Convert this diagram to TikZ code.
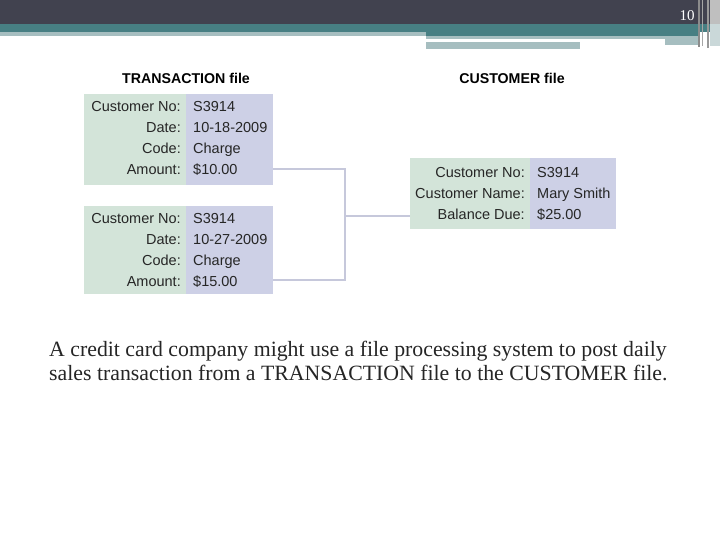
\documentclass[tikz,border=0pt]{standalone}
\usepackage{fontspec}
\newfontfamily\arialf{Liberation Sans}
\newfontfamily\seriff{Liberation Serif}
\definecolor{hdrdark}{HTML}{41424F}
\definecolor{hdrteal}{HTML}{477F83}
\definecolor{hdrlight}{HTML}{A6BEC0}
\definecolor{cellgreen}{HTML}{D3E4D9}
\definecolor{cellblue}{HTML}{CDD0E6}
\definecolor{connc}{HTML}{C6C8DB}
\tikzset{
  gcell/.style={fill=cellgreen, draw=none, anchor=north west, inner sep=0pt},
  bcell/.style={fill=cellblue, draw=none, anchor=north west, inner sep=0pt},
  lab/.style={anchor=base east, inner sep=0pt, font=\arialf\fontsize{14.5}{16}\selectfont, text=black!85},
  val/.style={anchor=base west, inner sep=0pt, font=\arialf\fontsize{14.5}{16}\selectfont, text=black!85},
  ttl/.style={anchor=base, inner sep=0pt, font=\arialf\bfseries\fontsize{14.2}{16}\selectfont},
  conn/.style={draw=connc, line width=2pt},
  captext/.style={anchor=base west, inner sep=0pt, font=\seriff\fontsize{21.8}{24}\selectfont, text=black!85}
}
\begin{document}
\begin{tikzpicture}[x=1pt,y=-1pt]
\useasboundingbox (0,0) rectangle (720,540);
\fill[white] (0,0) rectangle (720,540);
% header
\fill[hdrdark] (0,0) rectangle (720,24);
\fill[hdrteal] (0,24) rectangle (720,32);
\fill[hdrlight] (0,32) rectangle (426,36);
\fill[hdrteal] (426,32) rectangle (700,36);
\fill[hdrlight] (426,36) rectangle (700,39);
\fill[hdrlight] (665,39) rectangle (700,45);
\fill[hdrlight] (426,42) rectangle (580,49);
% right edge stripes
\fill[black!25] (710,0) rectangle (720,46);
\fill[hdrlight!60] (710,24) rectangle (720,46);
\fill[black!45] (698,0) rectangle (700,47);
\fill[black!35] (702,0) rectangle (703,46);
\fill[black!40] (707,0) rectangle (709,48);
\node[text=white, inner sep=0pt, font=\seriff\fontsize{15}{15}\selectfont] (pg) at (687,16) {10};
% titles
\node[ttl] (tt) at (186,84) {TRANSACTION file};
\node[ttl] (ct) at (512,84) {CUSTOMER file};
% transaction 1
\node[gcell, minimum width=102pt, minimum height=91pt] (t1g) at (84,94) {};
\node[bcell, minimum width=87pt, minimum height=91pt] (t1b) at (186,94) {};
\node[lab] (t1l1) at (181,112) {Customer No:};
\node[lab] (t1l2) at (181,133) {Date:};
\node[lab] (t1l3) at (181,154) {Code:};
\node[lab] (t1l4) at (181,175) {Amount:};
\node[val] (t1v1) at (193,112) {S3914};
\node[val] (t1v2) at (193,133) {10-18-2009};
\node[val] (t1v3) at (193,154) {Charge};
\node[val] (t1v4) at (193,175) {\$10.00};
% transaction 2
\node[gcell, minimum width=102pt, minimum height=88pt] (t2g) at (84,206) {};
\node[bcell, minimum width=87pt, minimum height=88pt] (t2b) at (186,206) {};
\node[lab] (t2l1) at (181,223) {Customer No:};
\node[lab] (t2l2) at (181,244) {Date:};
\node[lab] (t2l3) at (181,265) {Code:};
\node[lab] (t2l4) at (181,286) {Amount:};
\node[val] (t2v1) at (193,223) {S3914};
\node[val] (t2v2) at (193,244) {10-27-2009};
\node[val] (t2v3) at (193,265) {Charge};
\node[val] (t2v4) at (193,286) {\$15.00};
% customer
\node[gcell, minimum width=120pt, minimum height=71pt] (cg) at (410,158) {};
\node[bcell, minimum width=86pt, minimum height=71pt] (cb) at (530,158) {};
\node[lab] (cl1) at (525,178) {Customer No:};
\node[lab] (cl2) at (525,199) {Customer Name:};
\node[lab] (cl3) at (525,220) {Balance Due:};
\node[val] (cv1) at (537,178) {S3914};
\node[val] (cv2) at (537,199) {Mary Smith};
\node[val] (cv3) at (537,220) {\$25.00};
% connectors
\coordinate (j1) at (345,169);
\coordinate (j2) at (345,280);
\coordinate (jm) at (345,216);
\draw[conn] (t1b.east |- j1) -- (j1) -- (j2) -- (t2b.east |- j2);
\draw[conn] (jm) -- (cg.west |- jm);
% caption
\node[captext] (c1) at (49,356) {A credit card company might use a file processing system to post daily};
\node[captext] (c2) at (49,380) {sales transaction from a TRANSACTION file to the CUSTOMER file.};
\end{tikzpicture}
\end{document}
